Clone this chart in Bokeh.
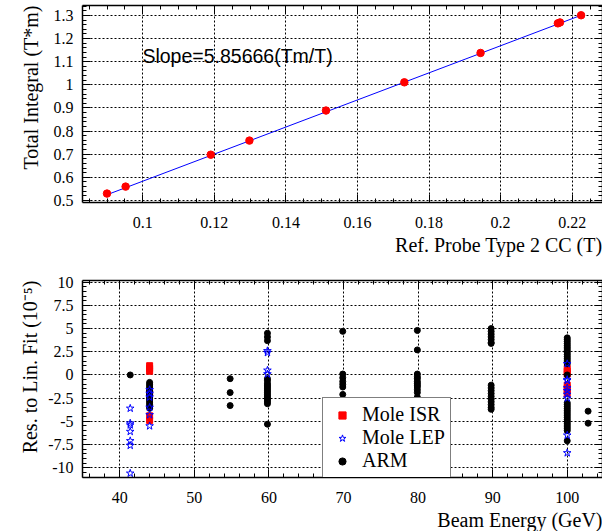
import numpy as np
from bokeh.plotting import figure
from bokeh.layouts import column
from bokeh.models import (FixedTicker, LinearAxis, Label, Legend, LegendItem,
                          Range1d, CustomJSTickFormatter, Title)
from bokeh.embed import file_html
from bokeh.resources import INLINE

# ---------------- top panel data ----------------
probe_field = [0.0900, 0.0952, 0.1190, 0.1298, 0.1512, 0.1731, 0.1944, 0.2160, 0.2166, 0.2225]
total_integral = [0.530, 0.560, 0.698, 0.759, 0.889, 1.011, 1.138, 1.266, 1.270, 1.301]
fit_slope = 5.85666
fit_intercept = -0.0022
top_xticks = [0.1, 0.12, 0.14, 0.16, 0.18, 0.2, 0.22]
top_yticks = [0.5, 0.6, 0.7, 0.8, 0.9, 1, 1.1, 1.2, 1.3]

# ---------------- bottom panel data ----------------
isr_energy = [44.0] * 6 + [100.0] * 7
isr_res = [1.0, 0.7, 0.4, -1.9, -4.4, -4.9,
           0.7, 0.4, 0.1, -1.1, -1.4, -1.7, -2.0]

lep_energy = [41.4] * 7 + [44.0] * 6 + [59.8] * 4 + [100.0] * 9
lep_res = [-3.6, -5.2, -5.4, -6.1, -7.1, -7.6, -10.6,
           -1.6, -2.0, -2.4, -3.5, -4.3, -5.5,
           2.4, 2.6, 0.5, 0.1,
           1.2, -0.5, -0.6, -1.4, -1.7, -2.1, -2.5, -6.5, -8.4]

arm_energy = ([41.4] * 1 + [44.0] * 15 + [54.8] * 3 + [59.8] * 18 + [69.9] * 7
              + [79.9] * 12 + [89.8] * 17 + [100.0] * 33 + [102.8] * 2)
arm_res = [0.0,
           -0.8, -1.0, -1.2, -1.4, -1.6, -1.8, -2.0, -2.2, -2.4, -2.6, -2.8, -3.0, -3.2, -3.4, -3.6,
           -0.4, -1.9, -3.3,
           4.5, 4.1, 3.7, -0.4, -0.6, -0.9, -1.1, -1.3, -1.5, -1.7, -1.9, -2.1, -2.3, -2.5, -2.7, -2.9, -3.1, -5.3,
           4.7, 0.1, -0.3, -0.7, -1.0, -1.3, -2.1,
           4.8, 2.7, 0.1, -0.2, -0.4, -0.7, -0.9, -1.1, -1.3, -1.6, -1.9, -2.4,
           5.0, 4.7, 4.4, 4.1, 3.8, 3.5, 3.4, -1.1, -1.4, -1.7, -2.0, -2.3, -2.6, -2.9, -3.2, -3.5, -3.7,
           4.0, 3.8, 3.6, 3.4, 3.2, 3.0, 2.8, 2.6, 2.4, 2.2, 2.0, 1.8, 1.6, 1.4, 1.2, 0.0,
           -3.0, -3.2, -3.4, -3.6, -3.8, -4.0, -4.2, -4.4, -4.6, -4.8, -5.0, -5.2, -5.4, -5.6, -5.8, -6.0, -7.1,
           -3.9, -5.2]

bot_xticks = [40, 50, 60, 70, 80, 90, 100]
bot_yticks = [-10, -7.5, -5, -2.5, 0, 2.5, 5, 7.5, 10]

SERIF = "Liberation Serif"
SANS = "Liberation Sans"

label_fmt = CustomJSTickFormatter(code="return String(tick)")
blank_fmt = CustomJSTickFormatter(code="return ''")
TITLE_PROPS = Title.properties()


def style_axis(ax, ticks, minor, show_labels, standoff=10):
    ax.ticker = FixedTicker(ticks=ticks, minor_ticks=minor)
    ax.axis_line_color = "black"
    ax.axis_line_width = 1.5
    ax.major_tick_in = 8
    ax.major_tick_out = 0
    ax.minor_tick_in = 4
    ax.minor_tick_out = 0
    ax.major_tick_line_color = "black"
    ax.minor_tick_line_color = "black"
    ax.major_tick_line_width = 1
    ax.minor_tick_line_width = 1
    if show_labels:
        ax.formatter = label_fmt
        ax.major_label_text_font = SERIF
        ax.major_label_text_font_size = "16px"
        ax.major_label_text_color = "black"
        ax.major_label_standoff = standoff
    else:
        ax.formatter = blank_fmt
        ax.major_label_text_font_size = "0px"
        ax.major_label_standoff = 0


def axis_title(text, offset=0, standoff=None, valign="bottom"):
    t = Title(text=text, align="right", offset=offset, text_font=SERIF,
              text_font_size="20px", text_font_style="normal",
              text_color="black", vertical_align=valign)
    if standoff is not None and "standoff" in TITLE_PROPS:
        t.standoff = standoff
    return t


def make_fig(xr, yr, fh, top, bottom, xt, xm, yt, ym):
    p = figure(frame_width=520, frame_height=fh, x_range=xr, y_range=yr,
               output_backend="svg", toolbar_location=None,
               min_border_left=82, min_border_right=0,
               min_border_top=top, min_border_bottom=bottom)
    p.outline_line_color = None
    p.background_fill_color = "white"
    p.border_fill_color = "white"
    style_axis(p.xaxis[0], xt, xm, True, standoff=14)
    style_axis(p.yaxis[0], yt, ym, True, standoff=9)
    ax_top = LinearAxis()
    style_axis(ax_top, xt, xm, False)
    p.add_layout(ax_top, "above")
    ax_right = LinearAxis()
    style_axis(ax_right, yt, ym, False)
    p.add_layout(ax_right, "right")
    p.xgrid.ticker = FixedTicker(ticks=xt)
    p.ygrid.ticker = FixedTicker(ticks=yt)
    for g in (p.xgrid, p.ygrid):
        g.grid_line_color = "black"
        g.grid_line_dash = "2 2"
        g.grid_line_width = 1
    return p


# ---------------- top figure ----------------
x1 = Range1d(0.08315, 0.22848)
y1 = Range1d(0.4913, 1.3432)
p1 = make_fig(x1, y1, 197, 5, 60, top_xticks,
              np.round(np.arange(0.085, 0.2281, 0.005), 4).tolist(),
              top_yticks, np.round(np.arange(0.5, 1.341, 0.02), 4).tolist())

fit_x = [min(probe_field), max(probe_field)]
fit_y = [fit_slope * v + fit_intercept for v in fit_x]
p1.line(fit_x, fit_y, line_color="blue", line_width=1)
p1.scatter(probe_field, total_integral, marker="circle", size=7.5,
           fill_color="red", line_color="red")

p1.add_layout(Label(x=0.0999, y=1.124, text="Slope=5.85666(Tm/T)",
                    text_font=SANS, text_font_size="19.5px", text_color="black",
                    text_baseline="middle", text_align="left"))
p1.add_layout(axis_title("Ref. Probe Type 2 CC (T)", standoff=2), "below")
p1.add_layout(axis_title("Total Integral (T*m)", offset=0, standoff=14,
                         valign="top"), "left")

# ---------------- bottom figure ----------------
x2 = Range1d(35.0, 104.73)
y2 = Range1d(-11.05, 10.18)
p2 = make_fig(x2, y2, 197, 18, 53, bot_xticks,
              list(range(36, 105, 2)),
              bot_yticks, np.round(np.arange(-11, 10.2, 0.5), 2).tolist())

r_isr = p2.scatter(isr_energy, isr_res, marker="square", size=6,
                   fill_color="red", line_color="red")
r_arm = p2.scatter(arm_energy, arm_res, marker="circle", size=6,
                   fill_color="black", line_color="black")
r_lep = p2.scatter(lep_energy, lep_res, marker="star", size=8,
                   fill_color=None, line_color="blue", line_width=1)

legend = Legend(items=[LegendItem(label="Mole ISR", renderers=[r_isr]),
                       LegendItem(label="Mole LEP", renderers=[r_lep]),
                       LegendItem(label="ARM", renderers=[r_arm])],
                location=(240, -1), margin=0, padding=5, spacing=0,
                glyph_width=28, glyph_height=18, label_height=18,
                label_standoff=6,
                label_text_font=SERIF, label_text_font_size="20px",
                label_text_color="black",
                border_line_color="black", border_line_width=1,
                background_fill_color="white", background_fill_alpha=1)
p2.add_layout(legend, "center")

p2.add_layout(axis_title("Beam Energy (GeV)", standoff=2), "below")
p2.add_layout(axis_title("Res. to Lin. Fit (10\u207b\u2075)", offset=0,
                         standoff=6, valign="top"), "left")

layout = column(p1, p2, spacing=0)
open("out.html", "w").write(file_html(layout, INLINE))
